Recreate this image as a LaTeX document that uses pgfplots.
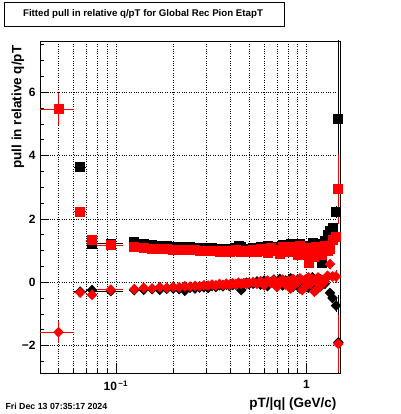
\documentclass[border=0pt]{standalone}
\usepackage{pgfplots}
\usepackage{pgfplotstable}
\pgfplotsset{compat=1.18}
\usepackage{fontspec}
\setmainfont{Liberation Sans}

% black squares
\pgfplotstableread{
x y ex ey
0.065 3.64 0.005 0.10
0.075 1.22 0.005 0.05
0.094 1.22 0.015 0.05
0.125 1.26 0.0075 0.04
0.140 1.21 0.0075 0.04
0.155 1.18 0.0075 0.04
0.170 1.15 0.0075 0.04
0.185 1.14 0.0075 0.04
0.200 1.12 0.0075 0.04
0.215 1.11 0.0075 0.04
0.230 1.10 0.0075 0.04
0.245 1.10 0.0075 0.04
0.260 1.08 0.0075 0.04
0.275 1.09 0.0075 0.04
0.290 1.07 0.0075 0.04
0.305 1.06 0.0075 0.04
0.320 1.08 0.0075 0.04
0.335 1.05 0.0075 0.04
0.350 1.06 0.0075 0.04
0.365 1.04 0.0075 0.04
0.380 1.05 0.0075 0.04
0.395 1.03 0.0075 0.04
0.410 1.06 0.0075 0.04
0.425 1.08 0.0075 0.04
0.440 1.15 0.0075 0.04
0.455 1.10 0.0075 0.04
0.470 1.04 0.0075 0.04
0.485 1.02 0.0075 0.04
0.500 1.05 0.0075 0.04
0.525 1.08 0.0125 0.05
0.550 1.03 0.0125 0.05
0.575 1.10 0.0125 0.05
0.600 1.06 0.0125 0.05
0.625 1.15 0.0125 0.05
0.650 1.00 0.0125 0.05
0.675 1.07 0.0125 0.05
0.700 1.12 0.0125 0.05
0.725 1.04 0.0125 0.05
0.750 1.18 0.0125 0.05
0.775 1.10 0.0125 0.05
0.800 0.98 0.0125 0.05
0.825 1.20 0.0125 0.05
0.850 1.05 0.0125 0.05
0.875 1.12 0.0125 0.05
0.900 0.95 0.0125 0.05
0.925 1.22 0.0125 0.05
0.950 1.08 0.0125 0.05
0.975 1.15 0.0125 0.05
1.000 0.86 0.0125 0.05
1.025 1.12 0.0125 0.05
1.050 0.92 0.0125 0.05
1.075 1.25 0.0125 0.05
1.100 1.10 0.0125 0.05
1.125 1.05 0.0125 0.05
1.150 1.20 0.0125 0.05
1.175 0.95 0.0125 0.05
1.200 0.62 0.0125 0.06
1.250 1.30 0.02 0.08
1.290 1.50 0.02 0.10
1.330 1.62 0.02 0.10
1.370 1.72 0.02 0.12
1.430 2.22 0.02 0.20
1.470 5.17 0.02 3.00
}\BS

% red squares
\pgfplotstableread{
x y ex ey
0.050 5.47 0.010 0.52
0.065 2.22 0.005 0.08
0.075 1.32 0.005 0.05
0.094 1.17 0.015 0.05
0.125 1.12 0.0075 0.04
0.140 1.08 0.0075 0.04
0.155 1.06 0.0075 0.04
0.170 1.05 0.0075 0.04
0.185 1.04 0.0075 0.04
0.200 1.03 0.0075 0.04
0.215 1.03 0.0075 0.04
0.230 1.02 0.0075 0.04
0.245 1.01 0.0075 0.04
0.260 1.02 0.0075 0.04
0.275 1.00 0.0075 0.04
0.290 0.99 0.0075 0.04
0.305 1.00 0.0075 0.04
0.320 0.98 0.0075 0.04
0.335 0.99 0.0075 0.04
0.350 0.97 0.0075 0.04
0.365 0.98 0.0075 0.04
0.380 1.00 0.0075 0.04
0.395 0.97 0.0075 0.04
0.410 0.99 0.0075 0.04
0.425 1.02 0.0075 0.04
0.440 0.98 0.0075 0.04
0.455 0.96 0.0075 0.04
0.470 1.00 0.0075 0.04
0.485 0.97 0.0075 0.04
0.500 0.99 0.0075 0.04
0.525 1.02 0.0125 0.05
0.550 0.96 0.0125 0.05
0.575 1.05 0.0125 0.05
0.600 1.00 0.0125 0.05
0.625 0.92 0.0125 0.05
0.650 1.08 0.0125 0.05
0.675 0.98 0.0125 0.05
0.700 1.03 0.0125 0.05
0.725 0.90 0.0125 0.05
0.750 1.10 0.0125 0.05
0.775 1.00 0.0125 0.05
0.800 0.95 0.0125 0.05
0.825 1.12 0.0125 0.05
0.850 0.97 0.0125 0.05
0.875 1.05 0.0125 0.05
0.900 0.85 0.0125 0.05
0.925 1.15 0.0125 0.05
0.950 1.00 0.0125 0.05
0.975 0.90 0.0125 0.05
1.000 1.08 0.0125 0.05
1.025 0.62 0.0125 0.05
1.050 1.05 0.0125 0.05
1.075 0.95 0.0125 0.05
1.100 0.80 0.0125 0.05
1.125 1.10 0.0125 0.05
1.150 0.90 0.0125 0.05
1.175 1.00 0.0125 0.05
1.200 0.85 0.0125 0.06
1.250 1.15 0.02 0.08
1.290 1.00 0.02 0.10
1.330 1.05 0.02 0.10
1.370 1.34 0.02 0.12
1.430 1.44 0.02 0.20
1.470 2.94 0.02 1.10
}\RS

% black diamonds
\pgfplotstableread{
x y ex ey
0.065 -0.30 0.005 0.06
0.075 -0.25 0.005 0.05
0.094 -0.28 0.015 0.05
0.125 -0.25 0.0075 0.04
0.140 -0.24 0.0075 0.04
0.155 -0.22 0.0075 0.04
0.170 -0.24 0.0075 0.04
0.185 -0.21 0.0075 0.04
0.200 -0.20 0.0075 0.04
0.215 -0.22 0.0075 0.04
0.230 -0.27 0.0075 0.04
0.245 -0.18 0.0075 0.04
0.260 -0.20 0.0075 0.04
0.275 -0.17 0.0075 0.04
0.290 -0.16 0.0075 0.04
0.305 -0.18 0.0075 0.04
0.320 -0.12 0.0075 0.04
0.335 -0.15 0.0075 0.04
0.350 -0.10 0.0075 0.04
0.365 -0.13 0.0075 0.04
0.380 -0.08 0.0075 0.04
0.395 -0.12 0.0075 0.04
0.410 -0.09 0.0075 0.04
0.425 -0.07 0.0075 0.04
0.440 -0.05 0.0075 0.04
0.455 -0.25 0.0075 0.04
0.470 -0.04 0.0075 0.04
0.485 -0.02 0.0075 0.04
0.500 -0.06 0.0075 0.04
0.525 -0.05 0.0125 0.05
0.550 0.02 0.0125 0.05
0.575 -0.08 0.0125 0.05
0.600 0.05 0.0125 0.05
0.625 -0.12 0.0125 0.05
0.650 0.00 0.0125 0.05
0.675 0.08 0.0125 0.05
0.700 -0.05 0.0125 0.05
0.725 0.10 0.0125 0.05
0.750 -0.10 0.0125 0.05
0.775 0.05 0.0125 0.05
0.800 -0.02 0.0125 0.05
0.825 0.12 0.0125 0.05
0.850 -0.15 0.0125 0.05
0.875 0.00 0.0125 0.05
0.900 0.08 0.0125 0.05
0.925 -0.20 0.0125 0.05
0.950 0.05 0.0125 0.05
0.975 -0.08 0.0125 0.05
1.000 0.10 0.0125 0.05
1.025 -0.18 0.0125 0.05
1.050 0.00 0.0125 0.05
1.075 0.15 0.0125 0.05
1.100 -0.05 0.0125 0.05
1.125 -0.25 0.0125 0.05
1.150 0.05 0.0125 0.05
1.175 0.10 0.0125 0.05
1.200 -0.10 0.0125 0.06
1.250 -0.05 0.02 0.08
1.290 0.18 0.02 0.10
1.330 -0.34 0.02 0.10
1.370 -0.50 0.02 0.12
1.430 -0.74 0.02 0.20
1.470 -1.90 0.02 1.50
}\BD

% red diamonds
\pgfplotstableread{
x y ex ey
0.050 -1.58 0.010 0.35
0.065 -0.33 0.005 0.06
0.075 -0.40 0.005 0.05
0.094 -0.24 0.015 0.05
0.125 -0.22 0.0075 0.04
0.140 -0.18 0.0075 0.04
0.155 -0.20 0.0075 0.04
0.170 -0.16 0.0075 0.04
0.185 -0.18 0.0075 0.04
0.200 -0.15 0.0075 0.04
0.215 -0.16 0.0075 0.04
0.230 -0.13 0.0075 0.04
0.245 -0.14 0.0075 0.04
0.260 -0.12 0.0075 0.04
0.275 -0.13 0.0075 0.04
0.290 -0.10 0.0075 0.04
0.305 -0.11 0.0075 0.04
0.320 -0.08 0.0075 0.04
0.335 -0.10 0.0075 0.04
0.350 -0.06 0.0075 0.04
0.365 -0.09 0.0075 0.04
0.380 -0.05 0.0075 0.04
0.395 -0.08 0.0075 0.04
0.410 -0.04 0.0075 0.04
0.425 -0.06 0.0075 0.04
0.440 -0.02 0.0075 0.04
0.455 -0.05 0.0075 0.04
0.470 -0.03 0.0075 0.04
0.485 -0.06 0.0075 0.04
0.500 -0.02 0.0075 0.04
0.525 0.00 0.0125 0.05
0.550 -0.05 0.0125 0.05
0.575 0.03 0.0125 0.05
0.600 -0.10 0.0125 0.05
0.625 0.05 0.0125 0.05
0.650 -0.02 0.0125 0.05
0.675 0.06 0.0125 0.05
0.700 -0.15 0.0125 0.05
0.725 0.02 0.0125 0.05
0.750 0.08 0.0125 0.05
0.775 -0.08 0.0125 0.05
0.800 0.04 0.0125 0.05
0.825 -0.20 0.0125 0.05
0.850 0.10 0.0125 0.05
0.875 -0.05 0.0125 0.05
0.900 0.00 0.0125 0.05
0.925 0.12 0.0125 0.05
0.950 -0.25 0.0125 0.05
0.975 0.06 0.0125 0.05
1.000 -0.10 0.0125 0.05
1.025 0.15 0.0125 0.05
1.050 -0.05 0.0125 0.05
1.075 0.10 0.0125 0.05
1.100 -0.30 0.0125 0.05
1.125 0.02 0.0125 0.05
1.150 0.15 0.0125 0.05
1.175 -0.15 0.0125 0.05
1.200 0.08 0.0125 0.06
1.250 0.02 0.02 0.08
1.290 0.20 0.02 0.10
1.330 0.57 0.02 0.10
1.370 0.18 0.02 0.12
1.430 0.18 0.02 0.20
1.470 -1.95 0.02 0.90
}\RD

\begin{document}
\begin{tikzpicture}[x=1pt,y=1pt]
\useasboundingbox (0,0) rectangle (400,414);
\draw[line width=0.8pt] (4,388) rectangle (284,412);
\node[font=\bfseries\fontsize{9.7}{11}\selectfont] at (143,400) {Fitted pull in relative q/pT for Global Rec Pion EtapT};
\node[font=\bfseries\fontsize{8.8}{11}\selectfont, anchor=west] at (2,8) {Fri Dec 13 07:35:17 2024};
\begin{axis}[
  at={(40pt,41pt)}, anchor=south west,
  scale only axis, width=300pt, height=332pt,
  xmode=log, xmin=0.04, xmax=1.5,
  ymin=-2.87, ymax=7.62,
  axis line style={line width=0.8pt},
  tick align=inside,
  xtick pos=bottom, ytick pos=left,
  major tick length=9pt, minor tick length=4.5pt,
  tick style={black, line width=0.6pt},
  xtick={0.1,1},
  xticklabels={{10\textsuperscript{\,−1}},{1}},
  minor xtick={0.05,0.06,0.07,0.08,0.09,0.2,0.3,0.4,0.5,0.6,0.7,0.8,0.9},
  ytick={-2,0,2,4,6},
  yticklabels={−2,0,2,4,6},
  minor ytick={-2.5,-1.5,-1,-0.5,0.5,1,1.5,2.5,3,3.5,4.5,5,5.5,6.5,7,7.5},
  xmajorgrids, xminorgrids, ymajorgrids,
  major grid style={black, dotted, line width=0.6pt},
  minor grid style={black, dotted, line width=0.6pt},
  ticklabel style={font=\bfseries\fontsize{12}{14}\selectfont},
  xticklabel style={yshift=-4pt},
  yticklabel style={xshift=-1pt},
  clip=true,
]
\addplot[black, line width=0.8pt, only marks, mark=square*, mark size=4.5pt,
  error bars/.cd, x dir=both, x explicit, y dir=both, y explicit,
  error bar style={black, line width=0.8pt}, error mark=none]
  table[x=x, y=y, x error=ex, y error=ey] {\BS};
\addplot[black, line width=0.8pt, only marks, mark=diamond*, mark size=4.8pt, mark options={xscale=1.3},
  error bars/.cd, x dir=both, x explicit, y dir=both, y explicit,
  error bar style={black, line width=0.8pt}, error mark=none]
  table[x=x, y=y, x error=ex, y error=ey] {\BD};
\addplot[red, line width=0.8pt, only marks, mark=square*, mark size=4.5pt,
  error bars/.cd, x dir=both, x explicit, y dir=both, y explicit,
  error bar style={red, line width=0.8pt}, error mark=none]
  table[x=x, y=y, x error=ex, y error=ey] {\RS};
\addplot[red, line width=0.8pt, only marks, mark=diamond*, mark size=4.8pt, mark options={xscale=1.3},
  error bars/.cd, x dir=both, x explicit, y dir=both, y explicit,
  error bar style={red, line width=0.8pt}, error mark=none]
  table[x=x, y=y, x error=ex, y error=ey] {\RD};
\end{axis}
\node[font=\bfseries\fontsize{13.5}{15}\selectfont, rotate=90, anchor=east] at (18,372) {pull in relative q/pT};
\node[font=\bfseries\fontsize{13.5}{15}\selectfont, anchor=east] at (340,10) {pT/|q| (GeV/c)};
\end{tikzpicture}
\end{document}
